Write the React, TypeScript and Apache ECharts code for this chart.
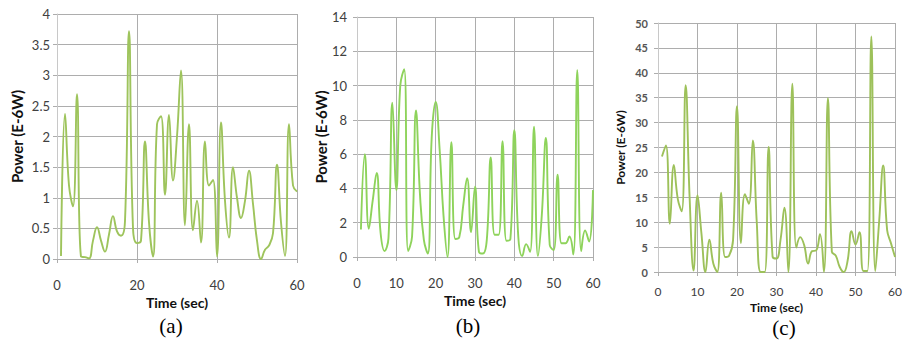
import React, { useEffect, useRef } from "react";
import * as echarts from "echarts";

const timeSec: number[] = Array.from({ length: 60 }, (_, i) => i + 1);

const powerA: number[] = [
  0.05, 2.37, 1.2, 0.86, 2.69, 0.04, 0.03, 0.01, 0.3, 0.52,
  0.3, 0.12, 0.4, 0.7, 0.45, 0.38, 0.62, 3.72, 0.5, 0.26,
  0.3, 1.92, 0.6, 0.04, 2.2, 2.33, 1.05, 2.35, 1.28, 2.0,
  3.08, 0.55, 2.2, 0.47, 0.95, 0.27, 1.92, 1.2, 1.29, 0.04,
  2.23, 0.95, 0.35, 1.5, 1.0, 0.67, 0.95, 1.44, 0.9, 0.3,
  0.0, 0.15, 0.22, 0.42, 1.54, 0.6, 0.05, 2.2, 1.2, 1.1,
];

const powerB: number[] = [
  1.6, 6.0, 1.65, 3.3, 4.9, 1.4, 0.35, 1.1, 9.0, 3.9,
  10.0, 10.95, 0.35, 1.2, 8.55, 3.7, 1.0, 0.2, 7.0, 9.05,
  6.3, 2.4, 0.0, 6.7, 1.05, 1.15, 3.0, 4.6, 1.45, 4.1,
  0.3, 0.2, 1.0, 5.8, 1.3, 1.3, 6.75, 0.95, 1.05, 7.4,
  1.2, 0.05, 0.75, 0.3, 7.6, 0.05, 2.5, 6.95, 0.7, 0.4,
  4.8, 0.8, 0.8, 1.2, 0.15, 10.9, 0.35, 1.55, 0.9, 3.9,
];

const powerC: number[] = [
  23.2, 25.4, 9.7, 21.5, 14.7, 12.2, 37.5, 15.0, 0.3, 15.4,
  7.7, 0.0, 6.5, 1.7, 0.0, 15.9, 3.0, 3.3, 6.4, 33.3,
  5.8, 15.6, 13.7, 26.4, 10.0, 0.0, 0.0, 25.1, 3.1, 2.7,
  6.4, 12.9, 0.0, 37.8, 4.9, 7.0, 5.4, 1.7, 4.2, 4.3,
  7.6, 0.0, 34.9, 4.1, 3.3, 1.0, 0.0, 2.3, 8.2, 5.5,
  8.0, 0.2, 0.2, 47.3, 0.2, 10.4, 21.4, 8.4, 5.7, 3.0,
];

const xAxisName = "Time (sec)";
const yAxisName = "Power (E-6W)";
const captions = ["(a)", "(b)", "(c)"];

const GRID_COLOR = "#ADADAD";
const TEXT_COLOR = "#404040";

export default function App() {
  const ref = useRef<HTMLDivElement>(null);

  useEffect(() => {
    if (!ref.current) return;
    const chart = echarts.init(ref.current, null, { renderer: "svg" });

    const grids = [
      { left: 57, top: 14, width: 240, height: 245 },
      { left: 357, top: 17, width: 236, height: 240 },
      { left: 658, top: 23, width: 245, height: 249 },
    ];
    const xIntervals = [20, 10, 10];
    const yMax = [4, 14, 50];
    const yInterval = [0.5, 2, 5];
    const labelSize = [13, 13, 10];
    const xLabelMargin = [19, 19, 13];
    const xNameGap = [30, 34, 23];
    const yNameGap = [33, 29, 32];
    const xNameSize = [14, 14, 12];
    const yNameSize = [15, 15, 12];
    const lineColors = ["#9EC45C", "#8ED35B", "#9DC15A"];
    const datasets = [powerA, powerB, powerC];

    const xAxes = grids.map((_, i) => ({
      type: "value",
      gridIndex: i,
      min: 0,
      max: 60,
      interval: xIntervals[i],
      name: xAxisName,
      nameLocation: "middle",
      nameGap: xNameGap[i],
      nameTextStyle: {
        fontFamily: "Lato",
        fontWeight: "bold",
        fontSize: xNameSize[i],
        color: "#111",
      },
      axisLine: { show: true, lineStyle: { color: GRID_COLOR, width: 1 } },
      axisTick: { show: true, length: 4, lineStyle: { color: GRID_COLOR } },
      axisLabel: {
        fontFamily: "Lato",
        fontSize: labelSize[i] + (i === 2 ? 2 : 0),
        color: TEXT_COLOR,
        margin: xLabelMargin[i],
        showMaxLabel: true,
        hideOverlap: false,
      },
      splitLine: { show: true, lineStyle: { color: GRID_COLOR, width: 1 } },
    }));

    const yAxes = grids.map((_, i) => ({
      type: "value",
      gridIndex: i,
      min: 0,
      max: yMax[i],
      interval: yInterval[i],
      name: yAxisName,
      nameLocation: "middle",
      nameRotate: 90,
      nameGap: yNameGap[i],
      nameTextStyle: {
        fontFamily: "Lato",
        fontWeight: "bold",
        fontSize: yNameSize[i],
        color: "#111",
      },
      axisLine: { show: true, lineStyle: { color: "#C8C8C8", width: 1 } },
      axisTick: { show: true, length: 4, lineStyle: { color: GRID_COLOR } },
      axisLabel: {
        fontFamily: "Lato",
        fontSize: labelSize[i] + (i === 2 ? 1 : 0),
        color: i === 2 ? "#555" : TEXT_COLOR,
        fontWeight: i === 2 ? "bold" : "normal",
        margin: i === 0 ? 7 : 10,
      },
      splitLine: { show: true, lineStyle: { color: GRID_COLOR, width: 1 } },
    }));

    const series = datasets.map((d, i) => ({
      type: "line",
      xAxisIndex: i,
      yAxisIndex: i,
      data: timeSec.map((t, k) => [t, d[k]]),
      smooth: 0.45,
      showSymbol: false,
      symbol: "none",
      lineStyle: { color: lineColors[i], width: 1.9 },
      clip: true,
    }));

    const captionX = [171, 468, 784];
    const captionY = [326, 326, 328];

    chart.setOption({
      animation: false,
      backgroundColor: "#ffffff",
      grid: grids.map((g) => ({ ...g, containLabel: false })),
      xAxis: xAxes,
      yAxis: yAxes,
      series,
      graphic: captions.map((c, i) => ({
        type: "text",
        x: captionX[i],
        y: captionY[i],
        style: {
          text: c,
          fontFamily: "Liberation Serif",
          fontSize: 21,
          fill: "#000",
          textAlign: "center",
          textVerticalAlign: "middle",
        },
      })),
    });

    return () => chart.dispose();
  }, []);

  return (
    <div
      ref={ref}
      style={{ position: "absolute", left: 0, top: 0, width: 905, height: 341 }}
    />
  );
}
